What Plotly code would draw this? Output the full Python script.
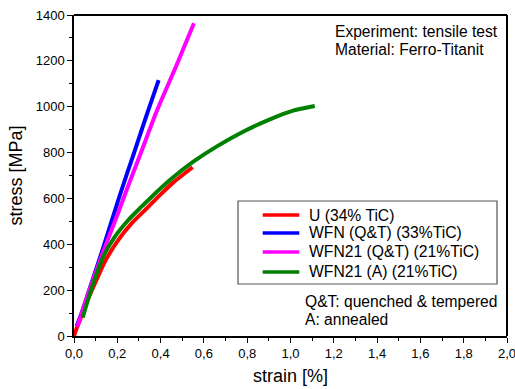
import plotly.graph_objects as go

# ---- data ----
u_strain = [0.0, 0.005, 0.012, 0.028, 0.06, 0.097, 0.143, 0.205, 0.266, 0.328, 0.405, 0.458, 0.548]
u_stress = [0, 15, 33, 70, 150, 230, 325, 419, 491, 549, 622, 669, 736]

wfn_strain = [0.012, 0.035, 0.07, 0.135, 0.212, 0.274, 0.335, 0.391]
wfn_stress = [43, 100, 200, 385, 615, 789, 962, 1116]

wfn21qt_strain = [0.015, 0.06, 0.12, 0.205, 0.243, 0.305, 0.381, 0.474, 0.554]
wfn21qt_stress = [40, 170, 330, 540, 637, 789, 978, 1182, 1364]

wfn21a_strain = [0.04, 0.082, 0.135, 0.189, 0.251, 0.312, 0.351, 0.443, 0.551, 0.658, 0.781, 0.905, 1.012, 1.112]
wfn21a_stress = [80, 210, 346, 433, 506, 564, 600, 680, 760, 826, 891, 945, 983, 1003]

series_names = ["U (34% TiC)", "WFN (Q&amp;T) (33%TiC)", "WFN21 (Q&amp;T) (21%TiC)", "WFN21 (A) (21%TiC)"]
series_colors = ["#FF0000", "#0000FF", "#FF00FF", "#008000"]

x_tickvals = [0.0, 0.2, 0.4, 0.6, 0.8, 1.0, 1.2, 1.4, 1.6, 1.8, 2.0]
x_ticktext = ["0,0", "0,2", "0,4", "0,6", "0,8", "1,0", "1,2", "1,4", "1,6", "1,8", "2,0"]
y_tickvals = [0, 200, 400, 600, 800, 1000, 1200, 1400]
y_ticktext = ["0", "200", "400", "600", "800", "1000", "1200", "1400"]

xs = [u_strain, wfn_strain, wfn21qt_strain, wfn21a_strain]
ys = [u_stress, wfn_stress, wfn21qt_stress, wfn21a_stress]

fig = go.Figure()
for name, color, x, y in zip(series_names, series_colors, xs, ys):
    fig.add_trace(go.Scatter(x=x, y=y, mode="lines", name=name, showlegend=False,
                             line=dict(color=color, width=4, shape="spline", smoothing=0.7)))

font_family = "Arial, Liberation Sans, sans-serif"

fig.update_layout(
    width=515, height=389,
    margin=dict(l=74, r=8, t=15, b=53, autoexpand=False),
    paper_bgcolor="white", plot_bgcolor="white",
    font=dict(family=font_family, color="black", size=13),
    showlegend=False,
    xaxis=dict(range=[0, 2.0], tickvals=x_tickvals, ticktext=x_ticktext,
               ticks="outside", ticklen=5, tickwidth=1.2, tickcolor="black",
               showline=True, linecolor="black", linewidth=1.5,
               showgrid=False, zeroline=False, automargin=False, ticklabeloverflow="allow",
               minor=dict(dtick=0.1, tick0=0, ticks="outside", ticklen=3, tickcolor="black", showgrid=False),
               title=dict(text="strain [%]", font=dict(size=18), standoff=9),
               tickfont=dict(size=13)),
    yaxis=dict(range=[0, 1400], tickvals=y_tickvals, ticktext=y_ticktext,
               ticks="outside", ticklen=5, tickwidth=1.2, tickcolor="black",
               showline=True, linecolor="black", linewidth=1.5,
               showgrid=False, zeroline=False, automargin=False,
               minor=dict(dtick=100, tick0=0, ticks="outside", ticklen=3, tickcolor="black", showgrid=False),
               title=dict(text="stress [MPa]", font=dict(size=18), standoff=8),
               tickfont=dict(size=13)),
)

# plot frame (top and right edges) with inward ticks
fig.add_shape(type="line", xref="paper", yref="paper", x0=0, x1=1, y0=1, y1=1,
              line=dict(color="black", width=2), layer="above")
fig.add_shape(type="line", xref="paper", yref="paper", x0=1, x1=1, y0=0, y1=1,
              line=dict(color="black", width=2), layer="above")

# ---- legend box drawn in paper coordinates ----
leg_x0, leg_x1, leg_y0, leg_y1 = 0.3788, 0.9769, 0.162, 0.4206
leg_rows = [0.3769, 0.3209, 0.2617, 0.1994]
fig.add_shape(type="rect", xref="paper", yref="paper", x0=leg_x0, x1=leg_x1, y0=leg_y0, y1=leg_y1,
              line=dict(color="#555555", width=1.2), fillcolor="white", layer="above")
for name, color, ry in zip(series_names, series_colors, leg_rows):
    fig.add_shape(type="line", xref="paper", yref="paper", x0=0.4358, x1=0.5203, y0=ry, y1=ry,
                  line=dict(color=color, width=3.5), layer="above")
    fig.add_annotation(x=0.5381, y=ry, xref="paper", yref="paper", xanchor="left", yanchor="middle",
                       text=name, showarrow=False, font=dict(family=font_family, size=15.7, color="black"))

ann_font = dict(family=font_family, size=15.6, color="black")
fig.add_annotation(x=0.598, y=0.950, xref="paper", yref="paper", xanchor="left", yanchor="middle",
                   text="Experiment: tensile test", showarrow=False, font=ann_font)
fig.add_annotation(x=0.598, y=0.891, xref="paper", yref="paper", xanchor="left", yanchor="middle",
                   text="Material: Ferro-Titanit", showarrow=False, font=ann_font)
fig.add_annotation(x=0.528, y=0.106, xref="paper", yref="paper", xanchor="left", yanchor="middle",
                   text="Q&amp;T: quenched &amp; tempered", showarrow=False, font=ann_font)
fig.add_annotation(x=0.528, y=0.050, xref="paper", yref="paper", xanchor="left", yanchor="middle",
                   text="A: annealed", showarrow=False, font=ann_font)

fig.write_html("out.html", config={"displayModeBar": False},
               post_script="document.body.style.margin='0';document.body.style.padding='0';")
